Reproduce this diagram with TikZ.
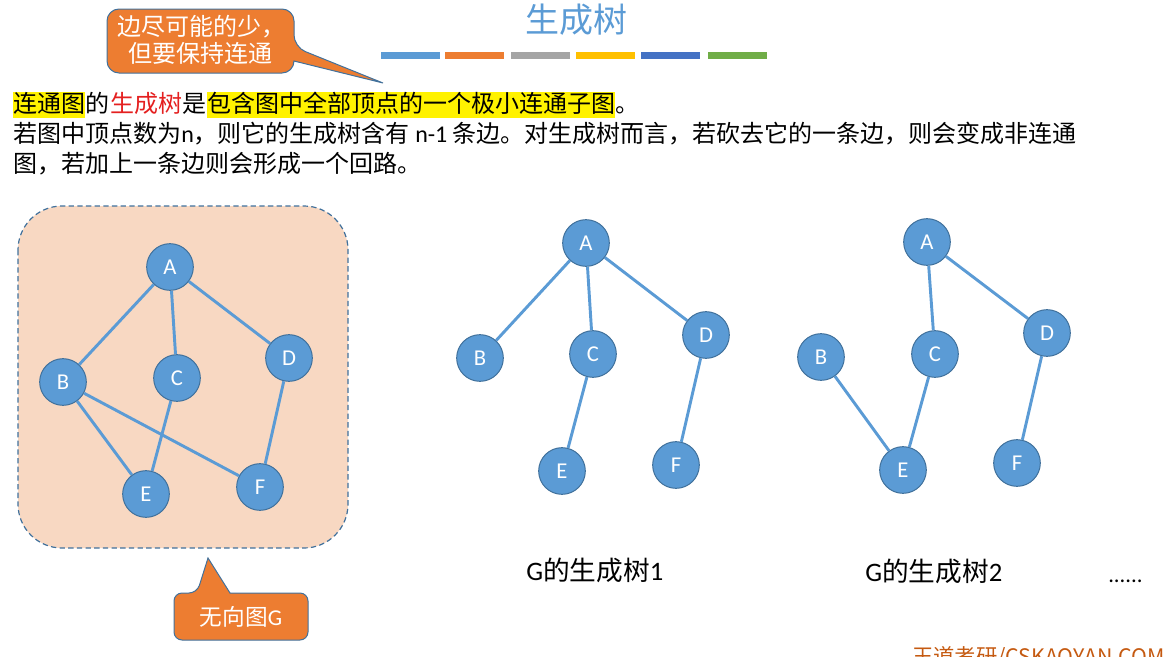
\documentclass[tikz,border=0pt]{standalone}
\usepackage{fontspec}
\setmainfont{Carlito}
\newfontfamily\cjk{Noto Sans CJK SC}
\definecolor{nodeblue}{HTML}{5B9BD5}
\definecolor{nodeborder}{HTML}{41719C}
\definecolor{callorange}{HTML}{ED7D31}
\definecolor{peach}{RGB}{248,216,194}
\definecolor{barA}{HTML}{5B9BD5}
\definecolor{barB}{HTML}{ED7D31}
\definecolor{barC}{HTML}{A5A5A5}
\definecolor{barD}{HTML}{FFC000}
\definecolor{barE}{HTML}{4472C4}
\definecolor{barF}{HTML}{70AD47}
\definecolor{hlred}{RGB}{228,32,32}
\definecolor{wmark}{RGB}{197,90,17}
\begin{document}
\begin{tikzpicture}[x=0.75pt,y=-0.75pt,
  vtx/.style={circle, fill=nodeblue, draw=nodeborder, line width=0.75pt, minimum size=35pt, inner sep=0pt, text=white, font=\fontsize{17}{20}\selectfont},
  edge/.style={draw=nodeblue, line width=2.2pt},
  txt/.style={anchor=base west, inner xsep=0pt, inner ysep=0pt, text height=15pt, text depth=4.5pt, font=\cjk\fontsize{18}{22}\selectfont},
  hl/.style={txt, fill=yellow},
  callbox/.style={fill=callorange, draw=nodeborder, line width=0.75pt},
  calltext/.style={text=white, align=center, font=\cjk\fontsize{18}{20}\selectfont, inner sep=0pt},
  caption/.style={anchor=base west, inner sep=0pt, font=\cjk\fontsize{20}{24}\selectfont}
]
\useasboundingbox (0,0) rectangle (1165,657);
\clip (0,0) rectangle (1165,657);

% title and bars
\node[font=\cjk\fontsize{25.5}{30}\selectfont, text=nodeblue, inner sep=0pt] (title) at (576,20) {生成树};
\fill[barA] (381,52) rectangle (440,59);
\fill[barB] (445,52) rectangle (504,59);
\fill[barC] (511,52) rectangle (570,59);
\fill[barD] (576,52) rectangle (635,59);
\fill[barE] (641,52) rectangle (700,59);
\fill[barF] (708,52) rectangle (767,59);

% callout 1
\draw[callbox] (200,9) [rounded corners=9pt] -- (294,9) -- (294,47) [sharp corners] -- (383,83) -- (294,61) [rounded corners=9pt] -- (294,73) -- (107,73) -- (107,9) -- cycle;
\node[calltext] (c1) at (201,40) {边尽可能的少，\\但要保持连通};

% body text
\node[hl] (t1) at (13,112) {连通图};
\node[txt] (t2) at (t1.base east) {的};
\node[txt, text=hlred] (t3) at (t2.base east) {生成树};
\node[txt] (t4) at (t3.base east) {是};
\node[hl] (t5) at (t4.base east) {包含图中全部顶点的一个极小连通子图};
\node[txt] (t6) at (t5.base east) {。};
\node[txt] (l2) at (13,142) {若图中顶点数为{\rmfamily n}，则它的生成树含有{\rmfamily\ n-1\ }条边。对生成树而言，若砍去它的一条边，则会变成非连通};
\node[txt] (l3) at (13,172) {图，若加上一条边则会形成一个回路。};

% graph G
\draw[fill=peach, draw=nodeborder, dash pattern=on 4pt off 2.5pt, line width=0.9pt, rounded corners=33pt] (18,206) rectangle (348,548);
\node[vtx] (gA) at (170,267) {A};
\node[vtx] (gB) at (63,382) {B};
\node[vtx] (gC) at (177,378) {C};
\node[vtx] (gD) at (289,358) {D};
\node[vtx] (gE) at (146,494) {E};
\node[vtx] (gF) at (260,487) {F};
\draw[edge] (gA) -- (gB);
\draw[edge] (gA) -- (gC);
\draw[edge] (gA) -- (gD);
\draw[edge] (gB) -- (gE);
\draw[edge] (gB) -- (gF);
\draw[edge] (gC) -- (gE);
\draw[edge] (gD) -- (gF);

% callout 2
\draw[callbox] (230,593) [rounded corners=6pt] -- (308,593) -- (308,640) -- (174,640) -- (174,593) -- (197,593) [sharp corners] -- (208,558) -- cycle;
\node[calltext, font=\cjk\fontsize{17}{20}\selectfont] (c2) at (241,617) {无向图{\rmfamily G}};

% tree 1
\node[vtx] (aA) at (586,243) {A};
\node[vtx] (aB) at (480,358) {B};
\node[vtx] (aC) at (593,354) {C};
\node[vtx] (aD) at (706,335) {D};
\node[vtx] (aE) at (562,471) {E};
\node[vtx] (aF) at (676,465) {F};
\draw[edge] (aA) -- (aB);
\draw[edge] (aA) -- (aC);
\draw[edge] (aA) -- (aD);
\draw[edge] (aC) -- (aE);
\draw[edge] (aD) -- (aF);

% tree 2
\node[vtx] (bA) at (927,242) {A};
\node[vtx] (bB) at (821,357) {B};
\node[vtx] (bC) at (935,354) {C};
\node[vtx] (bD) at (1047,333) {D};
\node[vtx] (bE) at (903,470) {E};
\node[vtx] (bF) at (1017,463) {F};
\draw[edge] (bA) -- (bC);
\draw[edge] (bA) -- (bD);
\draw[edge] (bB) -- (bE);
\draw[edge] (bC) -- (bE);
\draw[edge] (bD) -- (bF);

% captions
\node[caption] (cap1) at (526,580) {{\rmfamily G}的生成树{\rmfamily 1}};
\node[caption] (cap2) at (865,581) {{\rmfamily G}的生成树{\rmfamily 2}};
\node[anchor=base west, inner sep=0pt, font=\fontsize{17}{20}\selectfont] (dots) at (1108,582) {......};

% watermark
\node[anchor=base west, inner sep=0pt, text=wmark, font=\cjk\fontsize{16}{20}\selectfont] (wm) at (912,664) {王道考研/CSKAOYAN.COM};
\end{tikzpicture}
\end{document}
